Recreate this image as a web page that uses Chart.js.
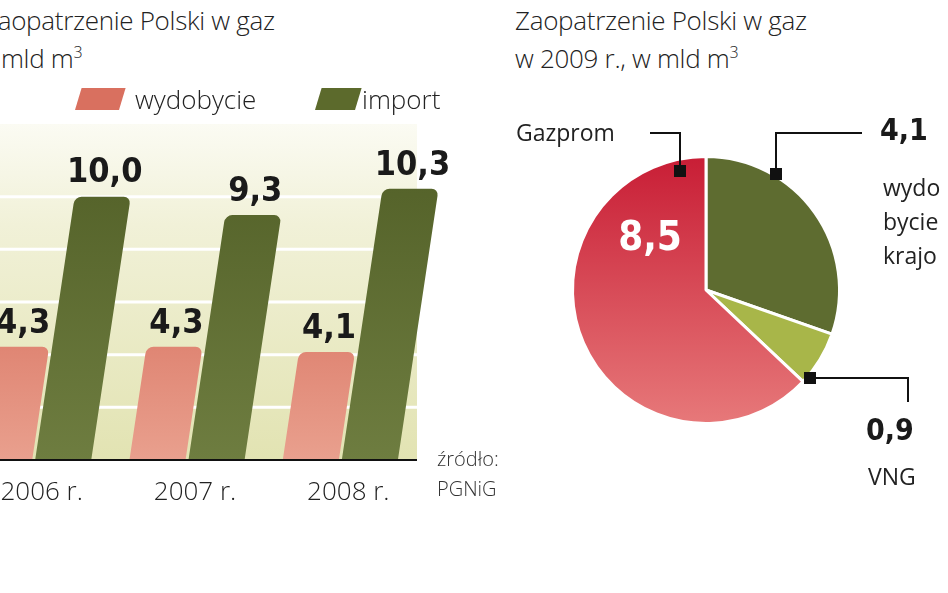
<!DOCTYPE html>
<html><head><meta charset="utf-8">
<script src="https://cdn.jsdelivr.net/npm/chart.js@4"></script>
<style>
body{margin:0;width:948px;height:593px;overflow:hidden;background:#fff;position:relative;font-family:"Open Sans",sans-serif;color:#222}
.t{position:absolute;font-size:26px;font-weight:300;white-space:nowrap;letter-spacing:-0.3px}
.s{position:absolute;font-size:20px;color:#333;font-weight:300}
#bw{position:absolute;left:-50px;top:0;width:540px;height:520px}
#pw{position:absolute;left:500px;top:110px;width:448px;height:400px}
.n{position:absolute;font-family:"DejaVu Sans Condensed","DejaVu Sans",sans-serif;font-weight:bold;font-size:30px;color:#1a1a1a}
.l{position:absolute;font-size:23px;color:#222}
</style></head><body>
<div class="t" style="left:-17px;top:2px">Zaopatrzenie Polski w gaz</div>
<div class="t" style="left:-24px;top:40px">w mld m<sup style="font-size:16px">3</sup></div>
<div class="t" style="left:515px;top:2px">Zaopatrzenie Polski w gaz</div>
<div class="t" style="left:515px;top:40px">w 2009 r., w mld m<sup style="font-size:16px">3</sup></div>
<div id="bw"><canvas id="bars"></canvas></div>
<div id="pw"><canvas id="pie"></canvas></div>
<div class="s" style="left:437px;top:445px">źródło:</div>
<div class="s" style="left:437px;top:475px">PGNiG</div>
<div class="l" style="left:516px;top:116px">Gazprom</div>
<div class="n" style="left:880px;top:112px">4,1</div>
<div class="l" style="left:883px;top:170px;line-height:34px">wydo<br>bycie<br>krajo</div>
<div class="n" style="left:866px;top:412px">0,9</div>
<div class="l" style="left:868px;top:460px">VNG</div>
<script>
const years=["2006 r.","2007 r.","2008 r."];
const wydobycie=[4.3,4.3,4.1];
const importVals=[10.0,9.3,10.3];
const pieLabels=["wydobycie krajowe","VNG","Gazprom"];
const pieValues=[4.1,0.9,8.5];
const yTicks=[2,4,6,8,10];
const K=0.15;
const fmt=v=>v.toFixed(1).replace('.',',');

function grad(ctx,c1,c2){const ca=ctx.chart.chartArea;if(!ca)return c1;
 const g=ctx.chart.ctx.createLinearGradient(0,ca.top+40,0,ca.bottom);g.addColorStop(0,c1);g.addColorStop(1,c2);return g;}

function slant(c,x,y,w,h,col){c.save();c.fillStyle=col;c.beginPath();
 c.moveTo(x,y+h);c.lineTo(x+w,y+h);c.lineTo(x+w+h*K*2,y);c.lineTo(x+h*K*2,y);c.closePath();c.fill();c.restore();}

const barPlug={id:'bp',
 beforeDatasetsDraw(ch){const c=ch.ctx,ca=ch.chartArea,y=ch.scales.y;
  const g=c.createLinearGradient(0,ca.top-20,0,ca.bottom);g.addColorStop(0,'#fbfbf3');g.addColorStop(0.3,'#f1f1d8');g.addColorStop(1,'#e2e3b2');
  c.fillStyle=g;c.fillRect(ca.left-10,ca.top-20,ca.right-ca.left+10,ca.bottom-ca.top+20);
  c.strokeStyle='#fff';c.lineWidth=3;
  yTicks.forEach(t=>{const p=y.getPixelForValue(t);c.beginPath();c.moveTo(ca.left-10,p);c.lineTo(ca.right,p);c.stroke();});
  const base=y.getPixelForValue(0);c.save();c.transform(1,0,-K,1,K*base,0);},
 afterDatasetsDraw(ch){const c=ch.ctx;c.restore();const ca=ch.chartArea,y=ch.scales.y,base=y.getPixelForValue(0);
  c.strokeStyle='#111';c.lineWidth=2;c.beginPath();c.moveTo(ca.left-10,base);c.lineTo(ca.right,base);c.stroke();
  c.font='bold 34px "DejaVu Sans Condensed","DejaVu Sans"';c.fillStyle='#1a1a1a';c.textAlign='center';c.textBaseline='bottom';
  ch.data.datasets.forEach((ds,i)=>ch.getDatasetMeta(i).data.forEach((b,j)=>{
   const yy=b.y;c.fillText(fmt(ds.data[j]),b.x+K*(base-yy)+2,yy-6);}));
  c.font='300 26px "Open Sans"';c.fillStyle='#222';c.textBaseline='alphabetic';
  years.forEach((l,j)=>c.fillText(l,ch.scales.x.getPixelForValue(j)+8,base+40));
  slant(c,125,88,44,22,'#d9705f');slant(c,365,88,40,22,'#5c6a2c');
  c.textAlign='left';c.fillText('wydobycie',185,109);c.fillText('import',412,109);
 }};

new Chart(document.getElementById('bars'),{type:'bar',
 data:{labels:years,datasets:[
  {label:'wydobycie',data:wydobycie,backgroundColor:c=>grad(c,'#d2604e','#e9a08e'),borderRadius:{topLeft:7,topRight:7},borderSkipped:'bottom',clip:false},
  {label:'import',data:importVals,backgroundColor:c=>grad(c,'#55632a','#6e7d40'),borderRadius:{topLeft:7,topRight:7},borderSkipped:'bottom',clip:false}]},
 options:{responsive:true,maintainAspectRatio:false,animation:false,
  layout:{padding:{left:7,right:73,top:144,bottom:60}},
  categoryPercentage:0.77,barPercentage:0.95,
  plugins:{legend:{display:false},tooltip:{enabled:false}},
  scales:{x:{display:false},y:{display:false,min:0,max:12}}},
 plugins:[barPlug]});

const piePlug={id:'pp',afterDraw(ch){const c=ch.ctx,a=ch.getDatasetMeta(0).data[2];c.save();
 c.font='bold 40px "DejaVu Sans Condensed","DejaVu Sans"';c.fillStyle='#fff';c.textAlign='center';c.textBaseline='middle';
 c.fillText('8,5',a.x-56,a.y-50);
 c.strokeStyle='#111';c.lineWidth=2;c.fillStyle='#111';
 c.beginPath();c.moveTo(150,23);c.lineTo(180,23);c.lineTo(180,60);c.stroke();c.fillRect(174,55,12,12);
 c.beginPath();c.moveTo(362,23);c.lineTo(276,23);c.lineTo(276,62);c.stroke();c.fillRect(270,58,12,12);
 c.beginPath();c.moveTo(316,268);c.lineTo(408,268);c.lineTo(408,292);c.stroke();c.fillRect(304,262,12,12);
 c.restore();}};

const pieCols=['#5e6c30','#a8b649',null];
new Chart(document.getElementById('pie'),{type:'pie',
 data:{labels:pieLabels,datasets:[{data:pieValues,
  backgroundColor:c=>{if(c.dataIndex!==2)return pieCols[c.dataIndex];const ca=c.chart.chartArea;if(!ca)return '#d84a55';
   const g=c.chart.ctx.createLinearGradient(0,ca.top,0,ca.bottom);g.addColorStop(0,'#c81d35');g.addColorStop(1,'#e7797a');return g;},
  borderColor:'#fff',borderWidth:3}]},
 options:{responsive:true,maintainAspectRatio:false,animation:false,layout:{padding:{left:71,right:107,top:45,bottom:85}},
  plugins:{legend:{display:false},tooltip:{enabled:false}}},
 plugins:[piePlug]});
</script></body></html>
